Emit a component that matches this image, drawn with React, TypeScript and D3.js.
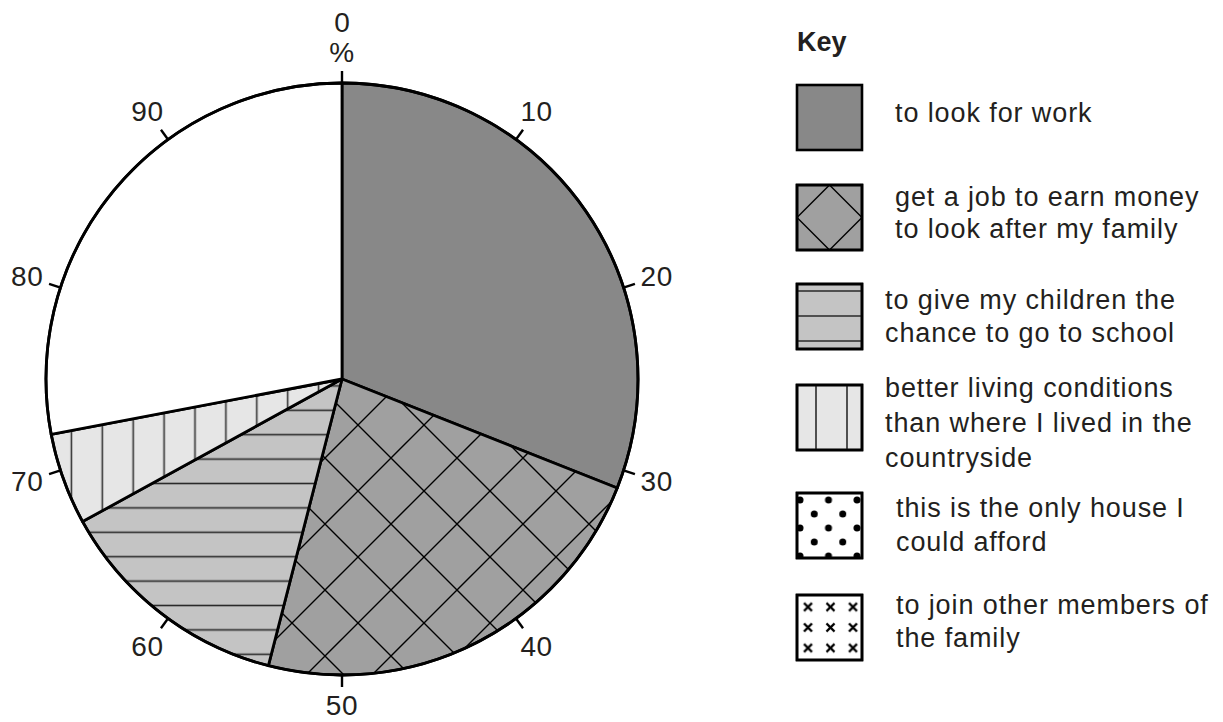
import React from 'react';
import * as d3 from 'd3';

// reasons given, in key order
const categories = [
  'to look for work',
  'get a job to earn money to look after my family',
  'to give my children the chance to go to school',
  'better living conditions than where I lived in the countryside',
  'this is the only house I could afford',
  'to join other members of the family',
];

// key text, wrapped as in the print
const keyLines = [
  ['to look for work'],
  ['get a job to earn money', 'to look after my family'],
  ['to give my children the', 'chance to go to school'],
  ['better living conditions', 'than where I lived in the', 'countryside'],
  ['this is the only house I', 'could afford'],
  ['to join other members of', 'the family'],
];

// percentages already drawn (the rest of the pie is left blank)
const shares = [31, 23, 13, 5];

const tickValues = [0, 10, 20, 30, 40, 50, 60, 70, 80, 90];

const pieFills = ['#888888', 'url(#diamond)', 'url(#hlines)', 'url(#vlines)'];
const keyFills = ['#888888', '#a0a0a0', '#c4c4c4', '#e6e6e6', 'url(#dots)', 'url(#crosses)'];

const W = 1223;
const H = 722;
const cx = 342;
const cy = 379;
const R = 296;
const FONT = '"Liberation Sans", Arial, Helvetica, sans-serif';
const INK = '#231f20';

const App: React.FC = () => {
  const angle = d3.scaleLinear().domain([0, 100]).range([0, 2 * Math.PI]);

  const blank = 100 - d3.sum(shares);
  const pieData = d3
    .pie<number>()
    .sort(null)
    .value((d) => d)
    .startAngle(0)
    .endAngle(2 * Math.PI)([...shares, blank]);

  const arc = d3.arc<d3.PieArcDatum<number>>().innerRadius(0).outerRadius(R);

  const polar = (v: number, r: number): [number, number] => {
    const a = angle(v);
    return [cx + r * Math.sin(a), cy - r * Math.cos(a)];
  };

  // key layout
  const keyX = 797;
  const boxSize = 65;
  const boxTops = [85, 185, 284, 385, 493, 595];
  const textX = [895, 895, 885, 885, 896, 896];
  const firstLineY = [122, 206, 309, 397, 517, 614];
  const lineGap = [34, 32, 33, 35, 34, 33];

  return (
    <svg
      width={W}
      height={H}
      style={{ position: 'absolute', left: 0, top: 0, background: '#fff' }}
      fontFamily={FONT}
    >
      <defs>
        <pattern id="diamond" patternUnits="userSpaceOnUse" x={49} y={46} width={66} height={66}>
          <rect width={66} height={66} fill="#a0a0a0" />
          <path d="M33,0 L66,33 L33,66 L0,33 Z" fill="none" stroke="#000" strokeWidth={1.4} />
        </pattern>
        <pattern id="hlines" patternUnits="userSpaceOnUse" x={0} y={385.1} width={20} height={24.4}>
          <rect width={20} height={24.4} fill="#c4c4c4" />
          <line x1={0} x2={20} y1={12.2} y2={12.2} stroke="#2a2a2a" strokeWidth={1.6} />
        </pattern>
        <pattern id="vlines" patternUnits="userSpaceOnUse" x={53.85} y={0} width={30.9} height={20}>
          <rect width={30.9} height={20} fill="#e6e6e6" />
          <line x1={15.45} x2={15.45} y1={0} y2={20} stroke="#333" strokeWidth={1.6} />
        </pattern>
        <pattern id="dots" patternUnits="userSpaceOnUse" x={800} y={500} width={28.5} height={28}>
          <rect width={28.5} height={28} fill="#fff" />
          <circle cx={0} cy={0} r={3.5} fill="#000" />
          <circle cx={28.5} cy={0} r={3.5} fill="#000" />
          <circle cx={0} cy={28} r={3.5} fill="#000" />
          <circle cx={28.5} cy={28} r={3.5} fill="#000" />
          <circle cx={14.25} cy={14} r={3.5} fill="#000" />
        </pattern>
        <pattern id="crosses" patternUnits="userSpaceOnUse" x={796.75} y={596.75} width={22.5} height={20.5}>
          <rect width={22.5} height={20.5} fill="#fff" />
          <path d="M7.25,6.25 L15.25,14.25 M15.25,6.25 L7.25,14.25" stroke="#000" strokeWidth={2.2} />
        </pattern>
      </defs>

      {/* pie */}
      <g transform={`translate(${cx},${cy})`}>
        {pieData.map((d, i) => (
          <path
            key={i}
            d={arc(d) || ''}
            fill={i < shares.length ? pieFills[i] : '#fff'}
            stroke="#000"
            strokeWidth={2.8}
            strokeLinejoin="round"
          />
        ))}
        <circle r={R} fill="none" stroke="#000" strokeWidth={2.8} />
      </g>

      {/* scale ticks */}
      {tickValues.map((v) => {
        const [x1, y1] = polar(v, R);
        const [x2, y2] = polar(v, R + 12);
        return <line key={v} x1={x1} y1={y1} x2={x2} y2={y2} stroke="#000" strokeWidth={2.4} />;
      })}
      {tickValues.map((v) => {
        const [x, y] = v === 0 ? [cx, 52] : polar(v, v === 50 ? 326 : 331);
        return (
          <text
            key={v}
            x={x}
            y={y}
            textAnchor="middle"
            dominantBaseline="central"
            fontSize={28}
            fill={INK}
            letterSpacing={0.6}
          >
            {v === 0 ? '%' : v}
          </text>
        );
      })}
      <text x={cx} y={22} textAnchor="middle" dominantBaseline="central" fontSize={28} fill={INK}>
        0
      </text>

      {/* key */}
      <text x={keyX} y={51} fontSize={27} fontWeight="bold" fill={INK}>
        Key
      </text>
      {categories.map((c, i) => (
        <g key={c}>
          <rect
            x={keyX}
            y={boxTops[i]}
            width={boxSize}
            height={boxSize}
            fill={keyFills[i]}
            stroke="#000"
            strokeWidth={2.6}
          />
          {i === 1 && (
            <path
              d={`M${keyX + boxSize / 2},${boxTops[i]} L${keyX + boxSize},${boxTops[i] + boxSize / 2} L${keyX + boxSize / 2},${boxTops[i] + boxSize} L${keyX},${boxTops[i] + boxSize / 2} Z`}
              fill="none"
              stroke="#000"
              strokeWidth={1.4}
            />
          )}
          {i === 2 &&
            [7, 32, 57].map((o) => (
              <line key={o} x1={keyX} x2={keyX + boxSize} y1={boxTops[i] + o} y2={boxTops[i] + o} stroke="#2a2a2a" strokeWidth={1.6} />
            ))}
          {i === 3 &&
            [19, 50].map((o) => (
              <line key={o} x1={keyX + o} x2={keyX + o} y1={boxTops[i]} y2={boxTops[i] + boxSize} stroke="#2a2a2a" strokeWidth={1.6} />
            ))}
          {i >= 1 && (
            <rect x={keyX} y={boxTops[i]} width={boxSize} height={boxSize} fill="none" stroke="#000" strokeWidth={2.6} />
          )}
          <text x={textX[i]} y={firstLineY[i]} fontSize={27} fill={INK} letterSpacing={0.9}>
            {keyLines[i].map((ln, j) => (
              <tspan key={j} x={textX[i]} y={firstLineY[i] + j * lineGap[i]}>
                {ln}
              </tspan>
            ))}
          </text>
        </g>
      ))}
    </svg>
  );
};

export default App;
